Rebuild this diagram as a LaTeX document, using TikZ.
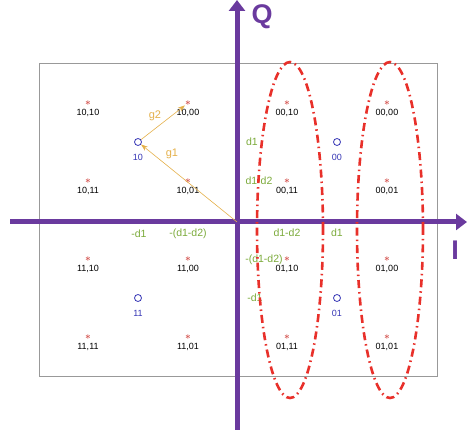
\documentclass[tikz,border=0pt]{standalone}
\usepackage{fontspec}
\setmainfont{Liberation Sans}
\usetikzlibrary{arrows.meta}
\definecolor{axisc}{HTML}{6A3A9E}
\definecolor{symc}{HTML}{D24A46}
\definecolor{decc}{HTML}{3434B4}
\definecolor{distc}{HTML}{7BAA3A}
\definecolor{gvc}{HTML}{E4B04A}
\definecolor{grpc}{HTML}{E8302A}

\begin{document}
\begin{tikzpicture}[x=1pt, y=-1pt,
  ax/.style={draw=axisc, line width=5pt, -{Triangle[length=11pt,width=16pt]}},
  sy/.style={text=symc, inner sep=0pt, font=\normalsize\boldmath},
  lb/.style={text=black, inner sep=0pt, font=\fontsize{9}{9}\selectfont},
  dc/.style={circle, draw=decc, line width=0.8pt, minimum size=7pt, inner sep=0pt},
  dl/.style={lb, text=decc},
  ds/.style={text=distc, inner sep=0pt, font=\fontsize{10.5}{10.5}\selectfont},
  gv/.style={draw=gvc, line width=0.6pt, -{Stealth[length=7pt,width=5pt]}},
  gl/.style={text=gvc, inner sep=0pt, font=\fontsize{11}{11}\selectfont},
  grp/.style={draw=grpc, line width=2.6pt, dash pattern=on 8pt off 4pt on 1.5pt off 4pt},
  axl/.style={text=axisc, inner sep=0pt, font=\fontsize{27}{27}\selectfont\bfseries}]
\useasboundingbox (0,0) rectangle (467,438);
\draw[black!40, line width=0.8pt] (39,63) rectangle (437,376);
% axes
\coordinate (O) at (237,222);
\coordinate (iL) at (10,222);
\coordinate (iR) at (467,222);
\coordinate (qB) at (237,430);
\coordinate (qT) at (237,0);
\draw[ax] (iL) -- (iR);
\draw[ax] (qB) -- (qT);
\node[axl] (qlab) at (262,17) {Q};
\node[axl] (ilab) at (455,250) {I};
% 16 symbols
\foreach \n/\l/\x/\y in
  {s1010/{10,10}/88/103, s1000/{10,00}/188/103, s1011/{10,11}/88/181, s1001/{10,01}/188/181,
   s0010/{00,10}/287/103, s0000/{00,00}/387/103, s0011/{00,11}/287/181, s0001/{00,01}/387/181,
   s1110/{11,10}/88/259, s1100/{11,00}/188/259, s1111/{11,11}/88/337, s1101/{11,01}/188/337,
   s0110/{01,10}/287/259, s0100/{01,00}/387/259, s0111/{01,11}/287/337, s0101/{01,01}/387/337}
{
  \node[sy] (\n) at (\x,\y) {$\ast$};
  \node[lb] (\n l) at (\x,\y+10) {\l};
}
% group centres
\foreach \n/\l/\x/\y in {c10/10/138/142, c00/00/337/142, c11/11/138/298, c01/01/337/298}
{
  \node[dc] (\n) at (\x,\y) {};
  \node[dl] (\n l) at (\x,\y+15) {\l};
}
% distances
\foreach \n/\l/\x/\y in
  {d1/{d1}/252/142, d2/{d1-d2}/259/181, d3/{-d1}/139/234, d4/{-(d1-d2)}/188/234,
   d5/{d1-d2}/287/233, d6/{d1}/337/233, d7/{-(d1-d2)}/264/260, d8/{-d1}/255/298}
  \node[ds] (\n) at (\x,\y) {\l};
% g vectors
\draw[gv] (O) -- (c10);
\draw[gv] (c10) -- (s1000);
\node[gl] (g1) at (172,154) {g1};
\node[gl] (g2) at (155,116) {g2};
% bit groups
\draw[grp] (290,230) ellipse [x radius=33pt, y radius=168pt];
\draw[grp] (390,230) ellipse [x radius=33pt, y radius=168pt];
\end{tikzpicture}
\end{document}
